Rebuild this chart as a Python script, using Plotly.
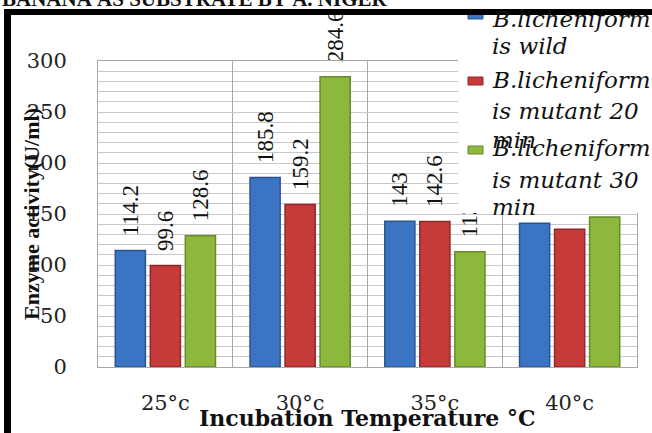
import plotly.graph_objects as go

# ---------------- data ----------------
categories = ["25°c", "30°c", "35°c", "40°c"]
wild = [114.2, 185.8, 143, 141]
mutant20 = [99.6, 159.2, 142.6, 135]
mutant30 = [128.6, 284.6, 113, 147]
series_names = ["B.licheniformis wild", "B.licheniformis mutant 20 min", "B.licheniformis mutant 30 min"]
legend_lines = [["B.licheniform", "is wild"],
                ["B.licheniform", "is mutant 20", "min"],
                ["B.licheniform", "is mutant 30", "min"]]
y_ticks = [0, 50, 100, 150, 200, 250, 300]
title_text = "BANANA AS SUBSTRATE BY A. NIGER"
x_title = "Incubation Temperature °C"
y_title = "Enzyme activity(U/ml)"

# ---------------- styles ----------------
colors = ["#3B74C2", "#C63B39", "#8DB83D"]
line_colors = ["#2A5590", "#8E2A28", "#67892B"]

W, H = 652, 433
L, R, T, B = 98, 15, 61, 66
PW = W - L - R
PH = H - T - B


def px(x):
    return (x - L) / PW


def py(y):
    return (H - B - y) / PH


fig = go.Figure()
for vals, name, c, lc in zip([wild, mutant20, mutant30], series_names, colors, line_colors):
    fig.add_trace(go.Bar(
        x=categories, y=vals, name=name,
        marker=dict(color=c, line=dict(color=lc, width=1.5)),
        texttemplate="\u00a0\u00a0%{y}", textposition="outside", textangle=-90,
        textfont=dict(family="Liberation Serif", size=23, color="#111"),
        cliponaxis=False, constraintext="none", showlegend=False,
    ))

shapes = []
# legend background
shapes.append(dict(type="rect", xref="paper", yref="paper", layer="above",
                   x0=px(458), x1=px(660), y0=py(213), y1=py(0),
                   fillcolor="white", line=dict(width=0)))
# legend markers
marker_centers = [15, 81, 150]
for yc, c, lc in zip(marker_centers, colors, line_colors):
    shapes.append(dict(type="rect", xref="paper", yref="paper", layer="above",
                       x0=px(468), x1=px(483), y0=py(yc + 4), y1=py(yc - 4),
                       fillcolor=c, line=dict(color=lc, width=1)))
# black frame (left and top)
shapes.append(dict(type="rect", xref="paper", yref="paper", layer="above",
                   x0=px(4), x1=px(11), y0=py(440), y1=py(9),
                   fillcolor="black", line=dict(width=0)))
shapes.append(dict(type="rect", xref="paper", yref="paper", layer="above",
                   x0=px(4), x1=px(660), y0=py(15), y1=py(9),
                   fillcolor="black", line=dict(width=0)))

annotations = []
legend_y = [[19, 46], [80, 111, 140], [148, 180, 207]]
for lines, ys in zip(legend_lines, legend_y):
    for t, yy in zip(lines, ys):
        annotations.append(dict(
            text=t, xref="paper", yref="paper", x=px(490), y=py(yy),
            xanchor="left", yanchor="middle", showarrow=False,
            font=dict(family="DejaVu Serif", size=23, color="#111", style="italic")))

# title (cut at the top)
annotations.append(dict(text="<b>" + title_text.replace(" ", "\u00a0") + "</b>",
                        xref="paper", yref="paper",
                        x=px(0), y=py(-1), xanchor="left", yanchor="middle", showarrow=False,
                        font=dict(family="Liberation Serif", size=21, color="#111")))
# y title
annotations.append(dict(text="<b>" + y_title + "</b>", xref="paper", yref="paper",
                        x=px(31), y=py(214), xanchor="center", yanchor="middle",
                        textangle=-90, showarrow=False,
                        font=dict(family="Liberation Serif", size=22, color="#111")))
# x title
annotations.append(dict(text="<b>" + x_title + "</b>", xref="paper", yref="paper",
                        x=px(367), y=py(418), xanchor="center", yanchor="middle",
                        showarrow=False,
                        font=dict(family="DejaVu Serif", size=22, color="#111")))

fig.update_layout(
    width=W, height=H,
    margin=dict(l=L, r=R, t=T, b=B, pad=0),
    paper_bgcolor="white", plot_bgcolor="white",
    barmode="group", bargap=0.22, bargroupgap=0.14,
    shapes=shapes, annotations=annotations,
    showlegend=False,
    xaxis=dict(type="category", tickson="boundaries", showgrid=True, gridcolor="#A8A8A8",
               gridwidth=1, showline=True, linecolor="#A8A8A8", mirror=True,
               ticks="", ticklabelstandoff=17,
               tickfont=dict(family="DejaVu Serif", size=21, color="#222")),
    yaxis=dict(range=[0, 300], tickvals=y_ticks, showgrid=True, gridcolor="#C8C8C8",
               minor=dict(dtick=10, showgrid=True, gridcolor="#C8C8C8"),
               zeroline=False, showline=True, linecolor="#A8A8A8", mirror=True,
               ticks="", ticklabelstandoff=26,
               tickfont=dict(family="DejaVu Serif", size=21, color="#222")),
)

fig.write_html("out.html", config={"displayModeBar": False},
               post_script="document.body.style.margin='0';document.body.style.overflow='hidden';")
